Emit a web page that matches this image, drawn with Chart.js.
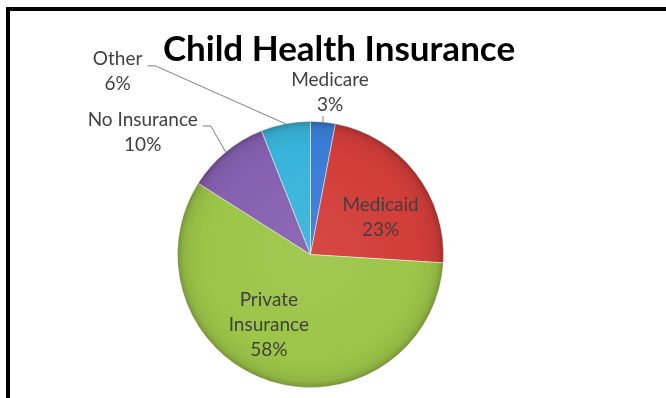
<!DOCTYPE html>
<html>
<head>
<meta charset="utf-8">
<script src="https://cdn.jsdelivr.net/npm/chart.js@4.4.1/dist/chart.umd.min.js"></script>
<style>
  html, body { margin: 0; padding: 0; background: #fff; }
  #wrap { position: relative; width: 666px; height: 398px; overflow: hidden; }
  #frame { position: absolute; left: 6px; top: 7px; width: 720px; height: 440px;
           border-top: 4px solid #000; border-left: 4px solid #000; box-sizing: border-box; }
  canvas { position: absolute; left: 0; top: 0; }
</style>
</head>
<body>
<div id="wrap">
  <div id="frame"></div>
  <canvas id="c" width="666" height="398"></canvas>
</div>
<script>
const chartTitle = 'Child Health Insurance';
const categories = ['Medicare', 'Medicaid', 'Private Insurance', 'No Insurance', 'Other'];
const shares = [3, 23, 58, 10, 6];
const sliceColors = ['#3a7dd6', '#d23d39', '#9cc548', '#8660b0', '#38b4da'];

// Label layout: inside labels sit at a fraction of the radius on the slice's mid-angle,
// outside labels are offset from the rim point where their leader line lands.
const labelPlacement = [
  { inside: false, dx: 7, dy: -30, leader: 'tick' },
  { inside: true, r: 0.6, dx: 7, dy: 12 },
  { inside: true, r: 0.6, dx: -17, dy: -6 },
  { inside: false, dx: -83, dy: -20, leader: 'elbow' },
  { inside: false, dx: -168, dy: -52, leader: 'elbow' }
];

const LABEL_FONT = '19px Lato';
const LABEL_COLOR = '#404040';
const LINE_H = 25;

function shade(hex, amt) {
  const n = parseInt(hex.slice(1), 16);
  let r = (n >> 16) & 255, g = (n >> 8) & 255, b = n & 255;
  const t = amt < 0 ? 0 : 255, p = Math.abs(amt);
  r = Math.round(r + (t - r) * p); g = Math.round(g + (t - g) * p); b = Math.round(b + (t - b) * p);
  return `rgb(${r},${g},${b})`;
}

function sliceFill(ctx) {
  const chart = ctx.chart, a = chart.chartArea;
  const base = sliceColors[ctx.dataIndex];
  if (!a) return base;
  const cx = (a.left + a.right) / 2, cy = (a.top + a.bottom) / 2;
  const R = Math.min(a.right - a.left, a.bottom - a.top) / 2;
  const g = chart.ctx.createRadialGradient(cx, cy, 0, cx, cy, R);
  g.addColorStop(0, shade(base, 0.06));
  g.addColorStop(0.8, base);
  g.addColorStop(0.95, shade(base, -0.06));
  g.addColorStop(1, shade(base, -0.2));
  return g;
}

function wrapText(ctx, text, maxW) {
  const words = text.split(' ');
  const lines = [];
  let cur = '';
  for (const w of words) {
    const t = cur ? cur + ' ' + w : w;
    if (cur && ctx.measureText(t).width > maxW) { lines.push(cur); cur = w; }
    else cur = t;
  }
  if (cur) lines.push(cur);
  return lines;
}

// soft rim shading over the whole pie
const rimShade = {
  id: 'rimShade',
  afterDatasetsDraw(chart) {
    const arc = chart.getDatasetMeta(0).data[0];
    if (!arc) return;
    const { x, y, outerRadius } = arc.getProps(['x', 'y', 'outerRadius'], true);
    const ctx = chart.ctx;
    ctx.save();
    const g = ctx.createRadialGradient(x, y, outerRadius * 0.9, x, y, outerRadius);
    g.addColorStop(0, 'rgba(0,0,0,0)');
    g.addColorStop(0.85, 'rgba(0,0,0,0.04)');
    g.addColorStop(1, 'rgba(0,0,0,0.14)');
    ctx.fillStyle = g;
    ctx.beginPath();
    ctx.arc(x, y, outerRadius, 0, Math.PI * 2);
    ctx.fill();
    ctx.restore();
  }
};

const titleAndLabels = {
  id: 'titleAndLabels',
  afterDraw(chart) {
    const ctx = chart.ctx;
    ctx.save();
    // chart title
    ctx.font = 'bold 35px Lato';
    ctx.fillStyle = '#000';
    ctx.textAlign = 'center';
    ctx.textBaseline = 'alphabetic';
    ctx.fillText(chartTitle, 339, 61);

    // data labels
    const meta = chart.getDatasetMeta(0);
    ctx.font = LABEL_FONT;
    ctx.fillStyle = LABEL_COLOR;
    ctx.textBaseline = 'middle';
    const total = shares.reduce((s, v) => s + v, 0);
    meta.data.forEach((arc, i) => {
      const p = arc.getProps(['x', 'y', 'startAngle', 'endAngle', 'outerRadius'], true);
      const mid = (p.startAngle + p.endAngle) / 2;
      const place = labelPlacement[i];
      const pct = Math.round(shares[i] / total * 100) + '%';
      let lines;
      let bx, by;
      if (place.inside) {
        lines = wrapText(ctx, categories[i], 95).concat([pct]);
        bx = p.x + Math.cos(mid) * p.outerRadius * place.r + place.dx;
        by = p.y + Math.sin(mid) * p.outerRadius * place.r + place.dy;
      } else {
        lines = [categories[i], pct];
        const ex = p.x + Math.cos(mid) * p.outerRadius;
        const ey = p.y + Math.sin(mid) * p.outerRadius;
        bx = ex + place.dx;
        by = ey + place.dy;
        ctx.save();
        ctx.strokeStyle = '#7f7f7f';
        ctx.lineWidth = 1;
        ctx.beginPath();
        if (place.leader === 'tick') {
          ctx.moveTo(ex, ey);
          ctx.lineTo(ex, ey - 6);
        } else {
          const firstMid = by - (lines.length - 1) * LINE_H / 2;
          const right = bx + ctx.measureText(lines[0]).width / 2;
          const hy = firstMid + 6.5;
          ctx.moveTo(right + 5, hy);
          ctx.lineTo(right + 13, hy);
          ctx.lineTo(ex, ey);
        }
        ctx.stroke();
        ctx.restore();
      }
      const y0 = by - (lines.length - 1) * LINE_H / 2;
      lines.forEach((t, k) => ctx.fillText(t, bx, y0 + k * LINE_H));
    });
    ctx.restore();
  }
};

new Chart(document.getElementById('c'), {
  type: 'pie',
  data: {
    labels: categories,
    datasets: [{
      data: shares,
      backgroundColor: sliceFill,
      borderColor: 'rgba(255,255,255,0.45)',
      borderWidth: 1
    }]
  },
  options: {
    responsive: false,
    animation: false,
    events: [],
    layout: { padding: { left: 177, top: 121, right: 222, bottom: 10 } },
    plugins: {
      legend: { display: false },
      title: { display: false },
      tooltip: { enabled: false }
    }
  },
  plugins: [rimShade, titleAndLabels]
});
</script>
</body>
</html>
